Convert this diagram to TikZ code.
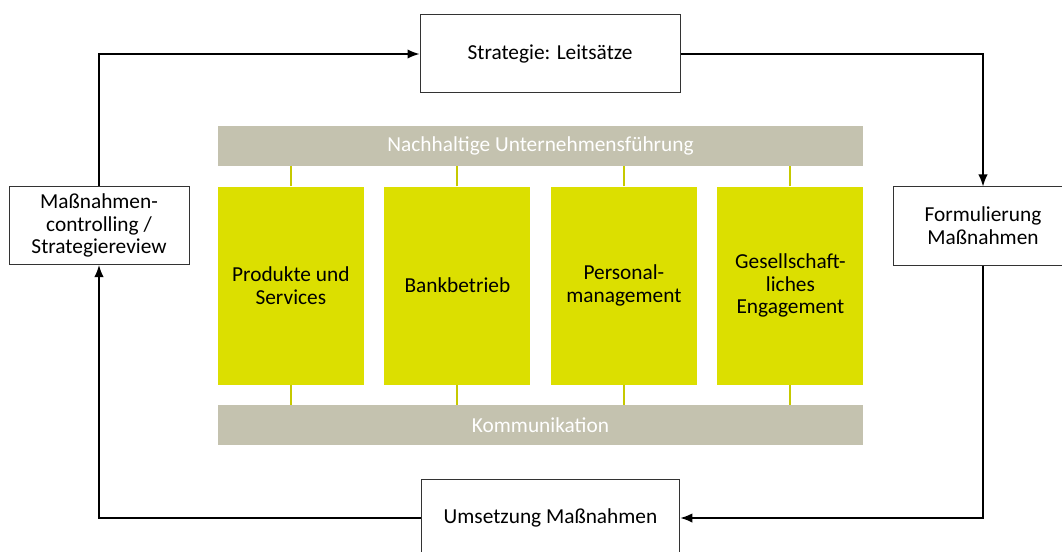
\documentclass[tikz,border=0pt]{standalone}
\usepackage{fontspec}
\setmainfont{Carlito}
\usetikzlibrary{positioning,arrows.meta}
\definecolor{pillargreen}{HTML}{DCDF00}
\definecolor{bargrey}{HTML}{C4C2AF}
\tikzset{
    stage/.style ={
        shape=rectangle,
        draw=black!80,
        line width=0.75pt,
        fill=white,
        align=center,
        font=\fontsize{16}{17}\selectfont,
        minimum height=58.5pt
    },
    pillar/.style ={
        shape=rectangle,
        fill=pillargreen,
        align=center,
        font=\fontsize{16}{17}\selectfont,
        minimum width=109.5pt,
        minimum height=148.5pt,
        inner sep=0pt
    },
    bar/.style ={
        shape=rectangle,
        fill=bargrey,
        text=white,
        font=\fontsize{16}{17}\selectfont,
        minimum width=484pt,
        minimum height=30pt,
        inner sep=0pt
    },
    flow/.style ={-{Latex[length=9pt,width=7pt]}, line width=1.1pt},
    link/.style ={draw=pillargreen!90!black, line width=1.5pt}
}
\begin{document}
\begin{tikzpicture}[x=0.75pt,y=-0.75pt]
    \useasboundingbox (0,0) rectangle (1062,552);
    \node[bar] (fuehrung) at (540.5,146) {Nachhaltige Unternehmensführung};
    \node[pillar,below right=15pt and 0pt of fuehrung.south west] (produkte) {Produkte und\\Services};
    \node[pillar,right=15pt of produkte] (bankbetrieb) {Bankbetrieb};
    \node[pillar,right=15pt of bankbetrieb] (personal) {Personal-\\management};
    \node[pillar,right=15pt of personal] (engagement) {Gesellschaft-\\liches\\Engagement};
    \node[bar,below right=15pt and 0pt of produkte.south west] (kommunikation) {Kommunikation};
    \node[stage,minimum width=195pt] (strategie) at (550,54) {Strategie: Leitsätze};
    \node[stage,minimum width=135pt] (review) at (99,225.5) {Maßnahmen-\\controlling /\\Strategiereview};
    \node[stage,minimum width=135pt] (formulierung) at (983,226) {Formulierung\\Maßnahmen};
    \node[stage,minimum width=194pt] (umsetzung) at (550.5,518) {Umsetzung Maßnahmen};
    \draw[link] (produkte.north) -- (produkte.north |- fuehrung.south);
    \draw[link] (bankbetrieb.north) -- (bankbetrieb.north |- fuehrung.south);
    \draw[link] (personal.north) -- (personal.north |- fuehrung.south);
    \draw[link] (engagement.north) -- (engagement.north |- fuehrung.south);
    \draw[link] (produkte.south) -- (produkte.south |- kommunikation.north);
    \draw[link] (bankbetrieb.south) -- (bankbetrieb.south |- kommunikation.north);
    \draw[link] (personal.south) -- (personal.south |- kommunikation.north);
    \draw[link] (engagement.south) -- (engagement.south |- kommunikation.north);
    \draw[flow] (review.north) |- (strategie.west);
    \draw[flow] (strategie.east) -| (formulierung.north);
    \draw[flow] (formulierung.south) |- (umsetzung.east);
    \draw[flow] (umsetzung.west) -| (review.south);
\end{tikzpicture}
\end{document}
